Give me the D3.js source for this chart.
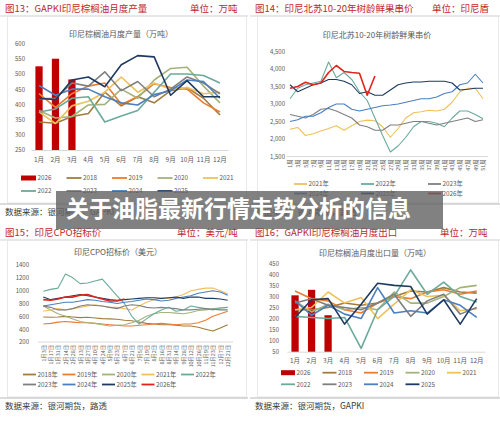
<!DOCTYPE html>
<html>
<head>
<meta charset="utf-8">
<script src="https://cdn.jsdelivr.net/npm/d3@7"></script>
<style>
body { margin: 0; background: #fff; }
svg text { font-family: "Noto Sans CJK SC", "Noto Sans", sans-serif; }
</style>
</head>
<body>
<div id="elements"></div>
<script>
// ---- data ----
var months = ["1月", "2月", "3月", "4月", "5月", "6月", "7月", "8月", "9月", "10月", "11月", "12月"];

// 图13 印尼棕榈油月度产量（万吨）
var prodBarYear = "2026";
var prod2026 = [525, 550, 482];
var prodYears = ["2018", "2019", "2020", "2021", "2022", "2023", "2024", "2025"];
var prodValues = [
    [342, 338, 360, 370, 440, 395, 425, 405, 445, 455, 420, 365],
    [435, 390, 435, 460, 470, 400, 425, 468, 455, 450, 405, 375],
    [380, 355, 360, 398, 400, 450, 420, 480, 518, 522, 460, 405],
    [375, 337, 395, 410, 440, 490, 440, 470, 450, 455, 435, 440],
    [375, 385, 420, 425, 342, 362, 380, 440, 500, 500, 495, 470],
    [418, 420, 470, 460, 507, 445, 475, 425, 450, 490, 470, 435],
    [462, 430, 450, 450, 425, 405, 398, 432, 445, 480, 475, 420],
    [420, 415, 480, 490, 458, 530, 560, 556, 430, 478, 425, 425]
];

// 图14 印尼北苏10-20年树龄鲜果串价
var weekLabels = ["1周", "3周", "5周", "7周", "9周", "11周", "13周", "15周", "17周", "19周", "21周", "23周", "25周",
    "27周", "29周", "31周", "33周", "35周", "37周", "39周", "41周", "43周", "45周", "47周", "49周", "51周"];
var fruitYears = ["2021", "2022", "2023", "2024", "2025", "2026"];
var fruitValues = [
    [2280, 2330, 2100, 2150, 2230, 2300, 2380, 2250, 2380, 2500, 2540, 2520, 2350, 2050, 2300, 2600, 2750, 2780, 2820, 2800, 2850, 3050, 3350, 3450, 3450, 3150],
    [3150, 3450, 3550, 3600, 3650, 4200, 3750, 3900, 3700, 3350, 3100, 2600, 2100, 1630, 1800, 2050, 2350, 2500, 2500, 2450, 2350, 2600, 2800, 2800, 2700, 2580],
    [2700, 2650, 2600, 2700, 2850, 2870, 2800, 2700, 2600, 2400, 2350, 2250, 2250, 2400, 2400, 2450, 2500, 2500, 2450, 2400, 2450, 2500, 2550, 2600, 2500, 2550],
    [2500, 2550, 2650, 2650, 2750, 2900, 3000, 3000, 2850, 2800, 2850, 2900, 2950, 2970, 3000, 3050, 3100, 3150, 3150, 3200, 3300, 3350, 3550, 3600, 3850, 3600],
    [3550, 3350, 3450, 3550, 3600, 3700, 3700, 3650, 3550, 3300, 3350, 3250, 3250, 3400, 3550, 3600, 3630, 3630, 3650, 3650, 3650, 3600, 3400, 3420, 3450, 3450],
    [3450, 3500, 3620, 3550, 3600, 3900, 4100, 3930, 3900, 3880, 3250, 3800]
];

// 图15 印尼CPO招标价（美元）
var dateLabels = ["1月3日", "1月17日", "1月31日", "2月14日", "2月28日", "3月13日", "3月27日", "4月10日", "4月24日",
    "5月9日", "5月23日", "6月7日", "6月21日", "7月5日", "7月19日", "8月2日", "8月16日", "8月31日", "9月14日",
    "9月28日", "10月12日", "10月26日", "11月9日", "11月23日", "12月7日", "12月21日"];
var cpoYears = ["2018", "2019", "2020", "2021", "2022", "2023", "2024", "2025", "2026"];
var cpoValues = [
    [590, 585, 590, 600, 590, 580, 585, 575, 565, 560, 555, 540, 530, 510, 490, 480, 470, 470, 460, 450, 450, 430, 400, 370, 420, 470],
    [480, 490, 510, 520, 510, 500, 500, 490, 480, 470, 460, 450, 450, 460, 470, 480, 490, 480, 470, 480, 480, 500, 540, 600, 640, 680],
    [760, 700, 640, 600, 560, 520, 500, 490, 470, 450, 460, 470, 500, 540, 600, 640, 660, 660, 650, 640, 660, 690, 700, 720, 730, 740],
    [680, 700, 720, 700, 720, 740, 760, 780, 760, 740, 740, 720, 700, 760, 820, 860, 880, 880, 900, 940, 1000, 1020, 1040, 1040, 1000, 950],
    [990, 1020, 1040, 1260, 1200, 1110, 1120, 1150, 1180, 1050, 920, 800, 600, 480, 560, 640, 700, 740, 680, 700, 760, 740, 720, 700, 730, 740],
    [760, 740, 700, 700, 720, 760, 780, 770, 760, 740, 720, 760, 780, 770, 740, 730, 740, 730, 720, 700, 700, 710, 720, 710, 700, 700],
    [760, 780, 800, 820, 820, 840, 860, 850, 830, 820, 800, 820, 830, 850, 870, 860, 840, 850, 880, 900, 920, 960, 980, 1000, 980, 930],
    [900, 860, 880, 900, 920, 940, 920, 900, 880, 860, 850, 860, 870, 880, 890, 890, 880, 890, 900, 880, 900, 900, 880, 880, 870, 850],
    [860, 850, 870, 900, 900, 930, 940, 900, 870, 840, 840, 870]
];

// 图16 印尼棕榈油月度出口量（万吨）
var exp2026 = [305, 330, 215];
var expYears = ["2018", "2019", "2020", "2021", "2022", "2023", "2024", "2025"];
var expValues = [
    [240, 240, 250, 270, 260, 270, 300, 325, 320, 340, 320, 315],
    [325, 290, 280, 240, 225, 270, 300, 290, 320, 330, 310, 325],
    [280, 230, 265, 240, 250, 240, 320, 270, 270, 300, 340, 350],
    [240, 250, 320, 270, 295, 200, 265, 330, 300, 305, 235, 245],
    [210, 205, 200, 205, 65, 240, 300, 420, 310, 365, 300, 275],
    [270, 290, 260, 250, 240, 270, 310, 210, 280, 310, 220, 250],
    [280, 215, 260, 220, 200, 340, 225, 235, 225, 285, 260, 205],
    [205, 285, 290, 175, 265, 360, 350, 345, 220, 285, 175, 290]
];

// ---- styles ----
var yearColor = {
    "2018": "#a27c3e", "2019": "#ec7c30", "2020": "#a3b37c", "2021": "#efc15c",
    "2022": "#6caa9b", "2023": "#7f7f7f", "2024": "#4b7fbf", "2025": "#1f3a60", "2026": "#c00000"
};
var red26 = "#e0231d";
var headRed = "#c0272d";
var gray = "#595959";

var svg = d3.select("#elements").append("svg")
    .attr("width", 500)
    .attr("height", 421);

// ---- panel frames ----
function frame(x0, x1, headY, lineY, boxBottom, title, unit, unitX, source) {
    svg.append("text").attr("x", x0 + 5).attr("y", headY).attr("dy", "0.35em")
        .attr("font-size", 9.5).attr("fill", headRed).text(title);
    svg.append("text").attr("x", unitX).attr("y", headY).attr("dy", "0.35em")
        .attr("font-size", 9.5).attr("fill", headRed).text(unit);
    svg.append("line").attr("x1", x0).attr("x2", x1).attr("y1", lineY).attr("y2", lineY)
        .attr("stroke", "#c8c8c8").attr("stroke-width", 0.8);
    svg.append("rect").attr("x", x0 + 7.5).attr("y", lineY).attr("width", x1 - x0 - 9)
        .attr("height", boxBottom - lineY).attr("fill", "none").attr("stroke", "#e4e4e4").attr("stroke-width", 0.8);
    svg.append("line").attr("x1", x0).attr("x2", x1).attr("y1", boxBottom + 1).attr("y2", boxBottom + 1)
        .attr("stroke", "#a6a6a6").attr("stroke-width", 0.8);
    svg.append("text").attr("x", x0 + 5).attr("y", boxBottom + 9).attr("dy", "0.35em")
        .attr("font-size", 8.5).attr("fill", "#3a3a3a").text(source);
}

frame(0, 248, 9, 16, 203, "图13：GAPKI印尼棕榈油月度产量", "单位：万吨", 190, "数据来源：银河期货，GAPKI");
frame(250, 500, 9, 16, 203, "图14：印尼北苏10-20年树龄鲜果串价", "单位：印尼盾", 432, "数据来源：银河期货，路透");
frame(0, 248, 233, 240, 397, "图15：印尼CPO招标价", "单位：美元/吨", 177, "数据来源：银河期货，路透");
frame(250, 500, 233, 240, 397, "图16：GAPKI印尼棕榈油月度出口", "单位：万吨", 440, "数据来源：银河期货，GAPKI");

// ---- helpers ----
function chartTitle(x, y, t) {
    svg.append("text").attr("x", x).attr("y", y).attr("dy", "0.35em").attr("text-anchor", "middle")
        .attr("font-size", 8).attr("fill", gray).text(t);
}

function yAxis(y, ticks, labelX, fmt) {
    var a = svg.append("g")
        .attr("transform", "translate(" + labelX + ",0)")
        .call(d3.axisLeft(y).tickValues(ticks).tickSize(0).tickPadding(0).tickFormat(fmt || d3.format("d")));
    a.select(".domain").remove();
    a.selectAll("text").attr("font-size", 6).attr("fill", gray);
}

function legend(rows, x0, step, y0, rowGap, lineLen, suffix, barName) {
    rows.forEach(function (row, r) {
        row.forEach(function (name, i) {
            var lx = x0 + i * step, ly = y0 + r * rowGap;
            if (name === barName) {
                svg.append("rect").attr("x", lx).attr("y", ly - 2.5).attr("width", lineLen).attr("height", 5)
                    .attr("fill", yearColor[name]);
            } else {
                svg.append("line").attr("x1", lx).attr("x2", lx + lineLen).attr("y1", ly).attr("y2", ly)
                    .attr("stroke", name === "2026" ? red26 : yearColor[name]).attr("stroke-width", 1.8);
            }
            svg.append("text").attr("x", lx + lineLen + 1.5).attr("y", ly).attr("dy", "0.35em")
                .attr("font-size", 6.3).attr("fill", gray).text(name + suffix);
        });
    });
}

// month chart with 2026 bars + yearly lines
function monthChart(o) {
    var x = d3.scaleBand().domain(months).range(o.xr);
    var y = d3.scaleLinear().domain(o.yd).range(o.yr);
    chartTitle(o.tx, o.ty, o.title);
    yAxis(y, d3.range(o.yd[0], o.yd[1] + 1, o.step), o.labelX);

    var xa = svg.append("g")
        .attr("transform", "translate(0," + o.yr[0] + ")")
        .call(d3.axisBottom(x).tickSize(0).tickPadding(o.pad));
    xa.select(".domain").attr("stroke", "#d9d9d9");
    xa.selectAll("text").attr("font-size", 6.5).attr("fill", gray);

    var bw = x.bandwidth();
    svg.append("g").selectAll("rect")
        .data(o.bars)
        .join("rect")
        .attr("x", function (d, i) { return x(months[i]) + bw * 0.28; })
        .attr("width", bw * 0.44)
        .attr("y", function (d) { return y(d); })
        .attr("height", function (d) { return o.yr[0] - y(d); })
        .attr("fill", yearColor["2026"]);

    var line = d3.line()
        .x(function (d, i) { return x(months[i]) + bw / 2; })
        .y(function (d) { return y(d); });
    svg.append("g").selectAll("path")
        .data(o.values)
        .join("path")
        .attr("d", line)
        .attr("fill", "none")
        .attr("stroke-width", 1.6)
        .attr("stroke-linejoin", "round")
        .attr("stroke", function (d, k) { return yearColor[o.names[k]]; });
}

// long line chart with rotated category labels
function seriesChart(o) {
    var x = d3.scalePoint().domain(o.labels).range(o.xr);
    var y = d3.scaleLinear().domain(o.yd).range(o.yr);
    chartTitle(o.tx, o.ty, o.title);
    yAxis(y, d3.range(o.yd[0], o.yd[1] + 1, o.step), o.labelX, o.fmt);

    svg.append("line").attr("x1", o.axisX[0]).attr("x2", o.axisX[1])
        .attr("y1", o.yr[0]).attr("y2", o.yr[0]).attr("stroke", "#d9d9d9");

    var xa = svg.append("g")
        .attr("transform", "translate(0," + o.yr[0] + ")")
        .call(d3.axisBottom(x).tickSize(0));
    xa.select(".domain").remove();
    xa.selectAll("text")
        .attr("transform", "rotate(-90)")
        .attr("text-anchor", "end")
        .attr("x", -3)
        .attr("y", 0)
        .attr("dy", "0.35em")
        .attr("font-size", 5.3)
        .attr("fill", gray);

    var line = d3.line()
        .x(function (d, i) { return x(o.labels[i]); })
        .y(function (d) { return y(d); })
        .curve(d3.curveLinear);
    svg.append("g").selectAll("path")
        .data(o.values)
        .join("path")
        .attr("d", line)
        .attr("fill", "none")
        .attr("stroke-linejoin", "round")
        .attr("stroke-width", function (d, k) { return o.names[k] === "2026" ? 1.6 : 1.1; })
        .attr("stroke", function (d, k) { return o.names[k] === "2026" ? red26 : yearColor[o.names[k]]; });
}

// ---- 图13 ----
monthChart({
    xr: [30.8, 228.2], yd: [250, 600], yr: [150, 43.5], step: 50, labelX: 25, pad: 7,
    tx: 121, ty: 34, title: "印尼棕榈油月度产量（万吨）",
    bars: prod2026, names: prodYears, values: prodValues
});
legend([["2026", "2018", "2019", "2020", "2021"], ["2022", "2023", "2024", "2025"]],
    21, 45.5, 178, 13, 15, "", prodBarYear);

// ---- 图14 ----
seriesChart({
    labels: weekLabels, xr: [290, 483], yd: [1500, 4500], yr: [156.5, 51.5], step: 500,
    labelX: 285, fmt: d3.format(","), axisX: [287, 488],
    tx: 377, ty: 35, title: "印尼北苏10-20年树龄鲜果串价",
    names: fruitYears, values: fruitValues
});
legend([["2021", "2022", "2023"], ["2024", "2025", "2026"]], 294, 67, 184, 9.5, 13, "年");

// ---- 图15 ----
seriesChart({
    labels: dateLabels, xr: [43.3, 227.7], yd: [200, 1400], yr: [342, 265], step: 200,
    labelX: 29, axisX: [38, 233],
    tx: 118, ty: 252, title: "印尼CPO招标价（美元）",
    names: cpoYears, values: cpoValues
});
legend([["2018", "2019", "2020", "2021", "2022"], ["2023", "2024", "2025", "2026"]],
    23, 39.5, 374.5, 10, 13, "年");

// ---- 图16 ----
monthChart({
    xr: [286.8, 485], yd: [50, 450], yr: [351.7, 263.3], step: 50, labelX: 279, pad: 6.5,
    tx: 375, ty: 253, title: "印尼棕榈油月度出口量（万吨）",
    bars: exp2026, names: expYears, values: expValues
});
legend([["2026", "2018", "2019", "2020", "2021"], ["2022", "2023", "2024", "2025"]],
    281, 41.5, 372.7, 11.6, 14, "", prodBarYear);

// ---- overlay banner ----
svg.append("rect")
    .attr("x", 56).attr("y", 191).attr("width", 387).attr("height", 38)
    .attr("fill", "rgba(98,98,98,0.8)");
svg.append("text")
    .attr("x", 66).attr("y", 209).attr("dy", "0.35em")
    .attr("font-size", 23).attr("font-weight", "bold").attr("fill", "#fff")
    .text("关于油脂最新行情走势分析的信息");
</script>
</body>
</html>
